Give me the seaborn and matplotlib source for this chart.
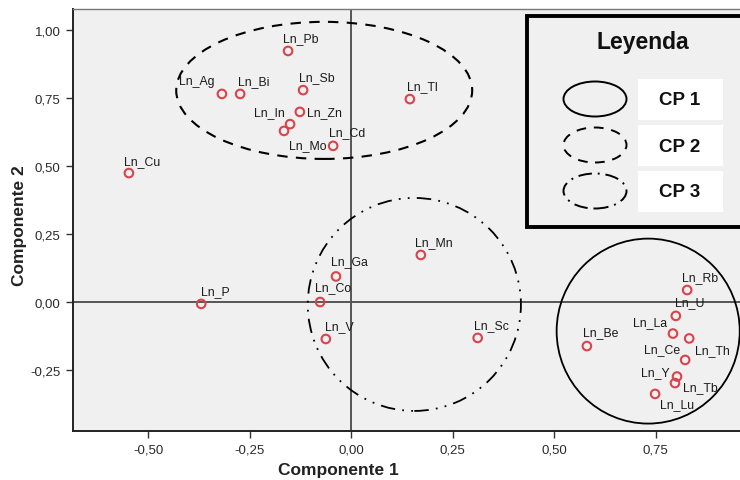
import matplotlib
matplotlib.use("Agg")
import matplotlib.pyplot as plt
from matplotlib.patches import Ellipse, Rectangle
import seaborn as sns
import pandas as pd

# ---- data ----
labels = ["Ln_Pb", "Ln_Ag", "Ln_Bi", "Ln_Sb", "Ln_Zn", "Ln_In", "Ln_Mo", "Ln_Cd",
          "Ln_Tl", "Ln_Cu", "Ln_Mn", "Ln_Ga", "Ln_Co", "Ln_V", "Ln_Sc", "Ln_P",
          "Ln_Be", "Ln_Rb", "Ln_U", "Ln_La", "Ln_Th", "Ln_Ce", "Ln_Y", "Ln_Tb", "Ln_Lu"]
comp1 = [-0.155, -0.318, -0.273, -0.118, -0.126, -0.150, -0.165, -0.044,
         0.145, -0.547, 0.172, -0.037, -0.076, -0.062, 0.312, -0.369,
         0.581, 0.828, 0.800, 0.793, 0.833, 0.823, 0.803, 0.798, 0.749]
comp2 = [0.923, 0.765, 0.765, 0.779, 0.699, 0.654, 0.629, 0.574,
         0.746, 0.474, 0.173, 0.094, 0.000, -0.136, -0.132, -0.007,
         -0.162, 0.044, -0.051, -0.116, -0.134, -0.213, -0.274, -0.298, -0.338]
xticks = [-0.50, -0.25, 0.00, 0.25, 0.50, 0.75]
yticks = [-0.25, 0.00, 0.25, 0.50, 0.75, 1.00]
legend_items = ["CP 1", "CP 2", "CP 3"]

# label offsets in pixels (dx, dy)
label_offsets = {
    "Ln_Pb": (13, 13), "Ln_Ag": (-25, 13), "Ln_Bi": (14, 13), "Ln_Sb": (14, 13),
    "Ln_Zn": (25, 0), "Ln_In": (-21, 12), "Ln_Mo": (24, -14), "Ln_Cd": (14, 14),
    "Ln_Tl": (13, 13), "Ln_Cu": (13, 12), "Ln_Mn": (13, 13), "Ln_Ga": (13, 15),
    "Ln_Co": (13, 15), "Ln_V": (13, 13), "Ln_Sc": (14, 13), "Ln_P": (14, 13),
    "Ln_Be": (14, 14), "Ln_Rb": (13, 13), "Ln_U": (14, 14), "Ln_La": (-23, 11),
    "Ln_Th": (23, -12), "Ln_Ce": (-23, 11), "Ln_Y": (-22, 4), "Ln_Tb": (25, -4),
    "Ln_Lu": (22, -10),
}

df = pd.DataFrame({"label": labels, "Componente 1": comp1, "Componente 2": comp2})

sns.set_theme(style="white")
plt.rcParams["font.family"] = ["Liberation Sans", "DejaVu Sans"]

fig = plt.figure(figsize=(7.40, 4.81), dpi=100)
fig.patch.set_facecolor("white")
L, R, T, B = 73, 742, 10, 432
ax = fig.add_axes([L / 740, 1 - B / 481, (R - L) / 740, (B - T) / 481])
ax.set_facecolor("#f0f0f0")

x_left = (L - 351) / 406
x_right = (R - 351) / 406
y_top = (303 - T) / 272
y_bot = (303 - B) / 272
ax.set_xlim(x_left, x_right)
ax.set_ylim(y_bot, y_top)

ax.axhline(0, color="#555555", lw=1.4, zorder=1)
ax.axvline(0, color="#555555", lw=1.4, zorder=1)

sns.scatterplot(data=df, x="Componente 1", y="Componente 2", ax=ax,
                marker="o", s=38, facecolor="none", edgecolor="#d9434b",
                linewidth=1.5, zorder=3)

for lab, x, y in zip(labels, comp1, comp2):
    dx, dy = label_offsets[lab]
    ax.annotate(lab, (x, y), xytext=(dx, dy), textcoords="offset pixels",
                ha="center", va="center", fontsize=8.8, color="#1a1a1a", zorder=4)

# cluster ellipses
ax.add_patch(Ellipse((0.732, -0.107), 0.451, 0.68, fill=False, ec="black",
                     lw=1.3, ls="-", zorder=2))
ax.add_patch(Ellipse((-0.066, 0.778), 0.729, 0.504, fill=False, ec="black",
                     lw=1.5, ls=(0, (5, 4)), zorder=2))
ax.add_patch(Ellipse((0.156, -0.009), 0.525, 0.783, fill=False, ec="black",
                     lw=1.3, ls=(0, (8, 4, 1, 4, 1, 4)), zorder=2))

ax.set_xticks(xticks)
ax.set_yticks(yticks)
ax.set_xticklabels([f"{v:.2f}".replace(".", ",") for v in xticks])
ax.set_yticklabels([f"{v:.2f}".replace(".", ",") for v in yticks])
ax.tick_params(axis="both", direction="out", length=5, width=1, color="#333333",
               labelsize=9.5, labelcolor="#2a2a2a", bottom=True, left=True, pad=4)
for s in ["left", "bottom"]:
    ax.spines[s].set_color("#222222")
    ax.spines[s].set_linewidth(1.4)
ax.spines["top"].set_color("#777777")
ax.spines["top"].set_linewidth(1.0)
ax.spines["right"].set_visible(False)

ax.set_xlabel("Componente 1", fontsize=12.5, fontweight="bold", color="#222222")
ax.set_ylabel("Componente 2", fontsize=12.5, fontweight="bold", color="#222222")
ax.xaxis.set_label_coords(0.397, -0.073)
ax.yaxis.set_label_coords(-0.069, 0.49)

# legend box (figure coordinates)
tf = fig.transFigure
fig.patches.append(Rectangle((527 / 740, 1 - 228 / 481), 230 / 740, 211 / 481,
                             transform=tf, fc="#f0f0f0", ec="black", lw=2.8, zorder=5))
fig.text(643 / 740, 1 - 43 / 481, "Leyenda", ha="center", va="center",
         fontsize=16.5, fontweight="bold", color="#111111", zorder=6)
styles = ["-", (0, (5, 4)), (0, (7, 3, 1, 3))]
centers_y = [100, 146, 192]
for item, st, cy in zip(legend_items, styles, centers_y):
    fig.patches.append(Ellipse((595 / 740, 1 - cy / 481), 63 / 740, 35 / 481,
                               transform=tf, fill=False, ec="black", lw=1.4,
                               ls=st, zorder=6))
    fig.patches.append(Rectangle((638 / 740, 1 - (cy + 21) / 481), 85 / 740, 41 / 481,
                                 transform=tf, fc="white", ec="none", zorder=6))
    fig.text(680 / 740, 1 - (cy + 1) / 481, item, ha="center", va="center",
             fontsize=13.5, fontweight="bold", color="#111111", zorder=7)

fig.savefig("out.png", dpi=100, facecolor="white")
